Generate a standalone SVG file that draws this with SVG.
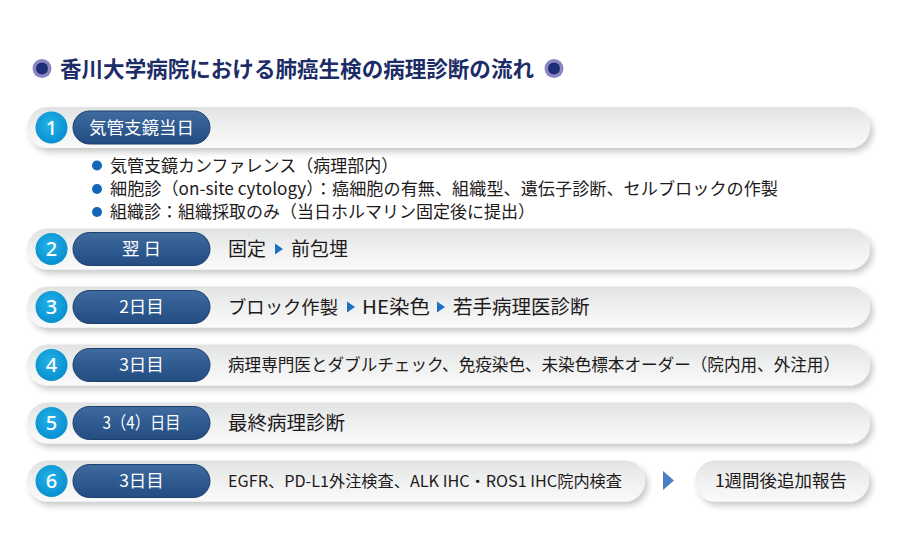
<svg xmlns="http://www.w3.org/2000/svg" width="900" height="548" viewBox="0 0 900 548">
<defs>
<linearGradient id="barG" x1="0" y1="0" x2="0" y2="1">
<stop offset="0" stop-color="#e1e2e2"/>
<stop offset="0.45" stop-color="#eeefef"/>
<stop offset="1" stop-color="#fafafa"/>
</linearGradient>
<linearGradient id="pillG" x1="0" y1="0" x2="0" y2="1">
<stop offset="0" stop-color="#3f6b9f"/>
<stop offset="0.5" stop-color="#2f5b91"/>
<stop offset="1" stop-color="#244c81"/>
</linearGradient>
<radialGradient id="circG" cx="0.45" cy="0.4" r="0.6">
<stop offset="0" stop-color="#25b2e8"/>
<stop offset="1" stop-color="#078fcf"/>
</radialGradient>
<filter id="sh" x="-5%" y="-40%" width="110%" height="190%">
<feGaussianBlur in="SourceAlpha" stdDeviation="3"/>
<feOffset dx="3" dy="4" result="b"/>
<feComponentTransfer><feFuncA type="linear" slope="0.22"/></feComponentTransfer>
<feMerge><feMergeNode/><feMergeNode in="SourceGraphic"/></feMerge>
</filter>
</defs>
<style>
.bar{fill:url(#barG);filter:url(#sh)}
.pill{fill:url(#pillG);stroke:#1d3f6e;stroke-width:1}
.circ{fill:url(#circG)}
.num{font-family:"Noto Sans","Noto Sans CJK JP",sans-serif;font-size:20px;font-weight:500;fill:#fff;text-anchor:middle}
.lab{font-family:"Noto Sans CJK JP",sans-serif;font-size:17.5px;fill:#fff;text-anchor:middle}
.txt{font-family:"Noto Sans CJK JP",sans-serif;fill:#1e1a1b}
.tri{fill:#1f6fc0}
.title{font-family:"Noto Sans CJK JP",sans-serif;font-size:21.5px;font-weight:700;fill:#1b2c66}
.dot{fill:#1466b8}
</style>
<rect width="900" height="548" fill="#fff"/>

<g id="title">
<circle cx="42" cy="68.5" r="9.5" fill="#8b85c1"/>
<circle cx="42" cy="68.5" r="6" fill="#1b2f78"/>
<text class="title" x="60" y="76.5" textLength="474" lengthAdjust="spacingAndGlyphs">香川大学病院における肺癌生検の病理診断の流れ</text>
<circle cx="554" cy="68.5" r="9.5" fill="#8b85c1"/>
<circle cx="554" cy="68.5" r="6" fill="#1b2f78"/>
</g>

<g id="step1">
<rect class="bar" x="27" y="107" width="843" height="41" rx="20.5"/>
<circle class="circ" cx="51.5" cy="127.5" r="16"/>
<text class="num" x="51.5" y="134.5">1</text>
<rect class="pill" x="73" y="111" width="137" height="33" rx="16.5"/>
<text class="lab" x="141.5" y="133.5">気管支鏡当日</text>
</g>

<g id="step1-details">
<circle class="dot" cx="97" cy="165.5" r="5"/>
<text class="txt" x="110" y="171.5" font-size="17">気管支鏡カンファレンス（病理部内）</text>
<circle class="dot" cx="97" cy="189" r="5"/>
<text class="txt" x="110" y="195" font-size="17" textLength="668" lengthAdjust="spacingAndGlyphs">細胞診（on-site cytology）：癌細胞の有無、組織型、遺伝子診断、セルブロックの作製</text>
<circle class="dot" cx="97" cy="212" r="5"/>
<text class="txt" x="110" y="218" font-size="17">組織診：組織採取のみ（当日ホルマリン固定後に提出）</text>
</g>

<g id="step2">
<rect class="bar" x="27" y="228.5" width="843" height="41" rx="20.5"/>
<circle class="circ" cx="51.5" cy="249" r="16"/>
<text class="num" x="51.5" y="256">2</text>
<rect class="pill" x="73" y="232.5" width="137" height="33" rx="16.5"/>
<text class="lab" x="141.5" y="255" xml:space="preserve">翌 日</text>
<text class="txt" x="228" y="256" font-size="19">固定</text>
<polygon class="tri" points="275,243.5 283,249 275,254.5"/>
<text class="txt" x="291" y="256" font-size="19">前包埋</text>
</g>

<g id="step3">
<rect class="bar" x="27" y="286.5" width="843" height="41" rx="20.5"/>
<circle class="circ" cx="51.5" cy="307" r="16"/>
<text class="num" x="51.5" y="314">3</text>
<rect class="pill" x="73" y="290.5" width="137" height="33" rx="16.5"/>
<text class="lab" x="141.5" y="313">2日目</text>
<text class="txt" x="228" y="314" font-size="18.5" textLength="110" lengthAdjust="spacingAndGlyphs">ブロック作製</text>
<polygon class="tri" points="347,301.5 355,307 347,312.5"/>
<text class="txt" x="362" y="314" font-size="19" textLength="68" lengthAdjust="spacingAndGlyphs">HE染色</text>
<polygon class="tri" points="437,301.5 445,307 437,312.5"/>
<text class="txt" x="453" y="314" font-size="19.5">若手病理医診断</text>
</g>

<g id="step4">
<rect class="bar" x="27" y="344.5" width="843" height="41" rx="20.5"/>
<circle class="circ" cx="51.5" cy="365" r="16"/>
<text class="num" x="51.5" y="372">4</text>
<rect class="pill" x="73" y="348.5" width="137" height="33" rx="16.5"/>
<text class="lab" x="141.5" y="371">3日目</text>
<text class="txt" x="228" y="371" font-size="17" textLength="612" lengthAdjust="spacingAndGlyphs">病理専門医とダブルチェック、免疫染色、未染色標本オーダー（院内用、外注用）</text>
</g>

<g id="step5">
<rect class="bar" x="27" y="402.5" width="843" height="41" rx="20.5"/>
<circle class="circ" cx="51.5" cy="423" r="16"/>
<text class="num" x="51.5" y="430">5</text>
<rect class="pill" x="73" y="406.5" width="137" height="33" rx="16.5"/>
<text class="lab" x="141.5" y="429" textLength="78" lengthAdjust="spacingAndGlyphs">3（4）日目</text>
<text class="txt" x="228" y="430" font-size="19.5">最終病理診断</text>
</g>

<g id="step6">
<rect class="bar" x="27" y="460.5" width="618" height="41" rx="20.5"/>
<circle class="circ" cx="51.5" cy="481" r="16"/>
<text class="num" x="51.5" y="488">6</text>
<rect class="pill" x="73" y="464.5" width="137" height="33" rx="16.5"/>
<text class="lab" x="141.5" y="487">3日目</text>
<text class="txt" x="228" y="487" font-size="15.5" textLength="394" lengthAdjust="spacingAndGlyphs">EGFR、PD-L1外注検査、ALK IHC・ROS1 IHC院内検査</text>
</g>

<g id="report">
<rect class="bar" x="695" y="460.5" width="174" height="41" rx="20.5"/>
<text class="txt" x="781" y="487" font-size="17.5" text-anchor="middle">1週間後追加報告</text>
</g>

<g id="connectors">
<polygon points="663,471 674,480.5 663,490" fill="#4a7fc1"/>
</g>
</svg>
